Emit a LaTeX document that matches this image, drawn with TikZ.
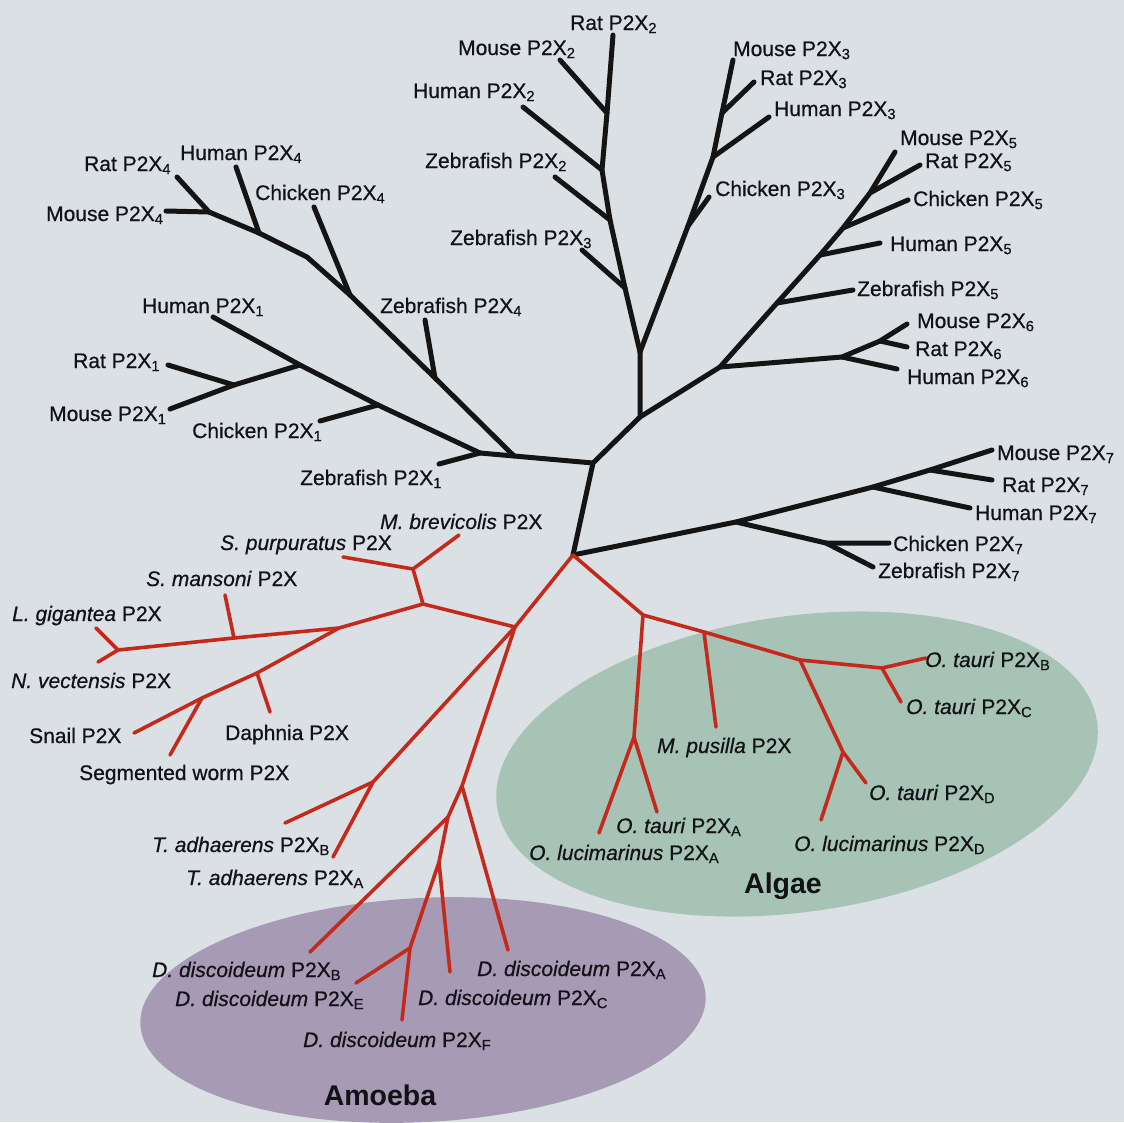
\documentclass[tikz,border=0pt]{standalone}
\usepackage{fontspec}
\setmainfont{Liberation Sans}[UprightFeatures={FakeBold=0.6},ItalicFeatures={FakeBold=0.6}]
\definecolor{bgc}{RGB}{218,224,228}
\definecolor{algc}{RGB}{166,195,182}
\definecolor{amoc}{RGB}{166,154,181}
\definecolor{redc}{RGB}{196,42,28}
\definecolor{txt}{RGB}{18,18,22}
\newcommand\lblfont{\fontsize{21}{24}\selectfont}
\newcommand\sbs[1]{\textsubscript{#1}}
\begin{document}
\begin{tikzpicture}[x=1pt,y=-1pt,
  bl/.style={line width=5pt, draw=black!92, line cap=round, line join=round},
  rd/.style={line width=3.6pt, draw=redc, line cap=round, line join=round},
  lab/.style={font=\lblfont, text=txt, inner sep=0pt, anchor=base west},
  grp/.style={font=\fontsize{28.5}{32}\selectfont\bfseries, text=txt, inner sep=0pt, anchor=base}]

\fill[bgc] (0,0) rectangle (1124,1122);
\useasboundingbox (0,0) rectangle (1124,1122);

% group ellipses
\fill[algc, rotate around={8:(797,764)}] (797,764) ellipse [x radius=303pt, y radius=148pt];
\fill[amoc, rotate around={3:(423,1010)}] (423,1010) ellipse [x radius=283pt, y radius=112pt];

% ---------- black tree ----------
\coordinate (R) at (573,555);
\coordinate (J1) at (593,463);
\coordinate (J2) at (640,417);
\coordinate (J3) at (640,352);
% P2X2
\coordinate (z3j) at (625,288); \coordinate (z3t) at (582,250);
\coordinate (z2j) at (610,220); \coordinate (z2t) at (555,177);
\coordinate (h2j) at (602,170); \coordinate (h2t) at (523,107);
\coordinate (m2j) at (607,113); \coordinate (m2t) at (560,60);
\coordinate (r2t) at (613,35);
% P2X3
\coordinate (c3j) at (688,226); \coordinate (c3t) at (709,197);
\coordinate (h3j) at (713,157); \coordinate (h3t) at (769,117);
\coordinate (r3j) at (722,113); \coordinate (r3t) at (754,82);
\coordinate (m3t) at (733,60);
% P2X5 / P2X6
\coordinate (p6j) at (720,367);
\coordinate (z5j) at (777,303); \coordinate (z5t) at (853,290);
\coordinate (h5j) at (820,255); \coordinate (h5t) at (880,243);
\coordinate (c5j) at (843,228); \coordinate (c5t) at (908,200);
\coordinate (r5j) at (870,193); \coordinate (r5t) at (920,165);
\coordinate (m5t) at (895,152);
\coordinate (p6a) at (842,357); \coordinate (h6t) at (897,369);
\coordinate (p6b) at (880,341); \coordinate (m6t) at (907,324);
\coordinate (r6t) at (907,347);
% P2X7
\coordinate (c7j) at (736,522); \coordinate (h7j) at (873,487);
\coordinate (rm7j) at (930,470); \coordinate (m7t) at (992,450);
\coordinate (r7t) at (992,480); \coordinate (h7t) at (970,508);
\coordinate (cz7j) at (826,543); \coordinate (c7t) at (889,543);
\coordinate (z7t) at (873,567);
% P2X1 / P2X4
\coordinate (p14j) at (514,456); \coordinate (z1j) at (480,453);
\coordinate (z1t) at (439,464);
\coordinate (c1j) at (378,405); \coordinate (c1t) at (320,421);
\coordinate (rm1j) at (300,365); \coordinate (rm1k) at (234,385);
\coordinate (r1t) at (168,365); \coordinate (m1t) at (170,409);
\coordinate (h1t) at (213,317);
\coordinate (z4j) at (435,378); \coordinate (z4t) at (425,320);
\coordinate (c4j) at (350,295); \coordinate (c4t) at (314,207);
\coordinate (p4m) at (307,257);
\coordinate (h4j) at (259,233); \coordinate (h4t) at (236,167);
\coordinate (rm4j) at (209,212); \coordinate (r4t) at (177,177);
\coordinate (m4t) at (166,211);

\draw[bl] (R) -- (J1) -- (J2) -- (J3) -- (z3j) -- (z2j) -- (h2j) -- (m2j) -- (r2t);
\draw[bl] (z3j) -- (z3t);
\draw[bl] (z2j) -- (z2t);
\draw[bl] (h2j) -- (h2t);
\draw[bl] (m2j) -- (m2t);
\draw[bl] (J3) -- (c3j) -- (h3j) -- (r3j) -- (m3t);
\draw[bl] (c3j) -- (c3t);
\draw[bl] (h3j) -- (h3t);
\draw[bl] (r3j) -- (r3t);
\draw[bl] (J2) -- (p6j) -- (z5j) -- (h5j) -- (c5j) -- (r5j) -- (m5t);
\draw[bl] (z5j) -- (z5t);
\draw[bl] (h5j) -- (h5t);
\draw[bl] (c5j) -- (c5t);
\draw[bl] (r5j) -- (r5t);
\draw[bl] (p6j) -- (p6a) -- (h6t);
\draw[bl] (p6a) -- (p6b) -- (m6t);
\draw[bl] (p6b) -- (r6t);
\draw[bl] (R) -- (c7j) -- (h7j) -- (rm7j) -- (m7t);
\draw[bl] (rm7j) -- (r7t);
\draw[bl] (h7j) -- (h7t);
\draw[bl] (c7j) -- (cz7j) -- (c7t);
\draw[bl] (cz7j) -- (z7t);
\draw[bl] (J1) -- (p14j) -- (z1j) -- (z1t);
\draw[bl] (z1j) -- (c1j) -- (rm1j) -- (h1t);
\draw[bl] (c1j) -- (c1t);
\draw[bl] (rm1j) -- (rm1k) -- (r1t);
\draw[bl] (rm1k) -- (m1t);
\draw[bl] (p14j) -- (z4j) -- (c4j) -- (p4m) -- (h4j) -- (rm4j) -- (r4t);
\draw[bl] (z4j) -- (z4t);
\draw[bl] (c4j) -- (c4t);
\draw[bl] (h4j) -- (h4t);
\draw[bl] (rm4j) -- (m4t);

% ---------- red tree ----------
\coordinate (rA) at (515,627); \coordinate (rB) at (643,615);
\coordinate (rC) at (423,604); \coordinate (rD) at (413,569);
\coordinate (mbt) at (459,535); \coordinate (spt) at (343,557);
\coordinate (rE) at (339,628); \coordinate (smj) at (234,638);
\coordinate (smt) at (225,595); \coordinate (lnj) at (118,650);
\coordinate (lgt) at (96,628); \coordinate (nvt) at (98,662);
\coordinate (dpj) at (257,673); \coordinate (dpt) at (270,712);
\coordinate (swj) at (202,698); \coordinate (swt) at (170,755);
\coordinate (snt) at (134,733);
\coordinate (taj) at (373,782); \coordinate (taBt) at (285,823);
\coordinate (taAt) at (333,857);
\coordinate (rEj) at (462,786); \coordinate (ddAt) at (508,950);
\coordinate (rF) at (448,817); \coordinate (ddBt) at (310,952);
\coordinate (rG) at (439,862); \coordinate (ddCt) at (450,972);
\coordinate (rH) at (410,948); \coordinate (ddEt) at (356,983);
\coordinate (ddFt) at (402,1020);
\coordinate (oAj) at (634,737); \coordinate (olAt) at (599,833);
\coordinate (otAt) at (657,812);
\coordinate (mpj) at (704,632); \coordinate (mpt) at (716,727);
\coordinate (dj) at (800,660); \coordinate (dk) at (843,752);
\coordinate (otDt) at (866,783); \coordinate (olDt) at (821,820);
\coordinate (bcj) at (882,668); \coordinate (otBt) at (926,658);
\coordinate (otCt) at (901,702);

\draw[rd] (R) -- (rA) -- (rC) -- (rD) -- (mbt);
\draw[rd] (rD) -- (spt);
\draw[rd] (rC) -- (rE) -- (smj) -- (lnj) -- (lgt);
\draw[rd] (lnj) -- (nvt);
\draw[rd] (smj) -- (smt);
\draw[rd] (rE) -- (dpj) -- (swj) -- (snt);
\draw[rd] (dpj) -- (dpt);
\draw[rd] (swj) -- (swt);
\draw[rd] (rA) -- (taj) -- (taAt);
\draw[rd] (taj) -- (taBt);
\draw[rd] (rA) -- (rEj) -- (ddAt);
\draw[rd] (rEj) -- (rF) -- (ddBt);
\draw[rd] (rF) -- (rG) -- (ddCt);
\draw[rd] (rG) -- (rH) -- (ddEt);
\draw[rd] (rH) -- (ddFt);
\draw[rd] (R) -- (rB) -- (oAj) -- (olAt);
\draw[rd] (oAj) -- (otAt);
\draw[rd] (rB) -- (mpj) -- (mpt);
\draw[rd] (mpj) -- (dj) -- (dk) -- (otDt);
\draw[rd] (dk) -- (olDt);
\draw[rd] (dj) -- (bcj) -- (otBt);
\draw[rd] (bcj) -- (otCt);

% ---------- labels ----------
\node[lab] (lr2) at (570,30) {Rat P2X\sbs{2}};
\node[lab] (lm2) at (458,55) {Mouse P2X\sbs{2}};
\node[lab] (lh2) at (413,98) {Human P2X\sbs{2}};
\node[lab] (lz2) at (425,168) {Zebrafish P2X\sbs{2}};
\node[lab] (lz3) at (450,245) {Zebrafish P2X\sbs{3}};
\node[lab] (lm3) at (733,56) {Mouse P2X\sbs{3}};
\node[lab] (lr3) at (760,85) {Rat P2X\sbs{3}};
\node[lab] (lh3) at (774,116) {Human P2X\sbs{3}};
\node[lab] (lc3) at (715,196) {Chicken P2X\sbs{3}};
\node[lab] (lm5) at (900,145) {Mouse P2X\sbs{5}};
\node[lab] (lr5) at (925,168) {Rat P2X\sbs{5}};
\node[lab] (lc5) at (913,206) {Chicken P2X\sbs{5}};
\node[lab] (lh5) at (890,251) {Human P2X\sbs{5}};
\node[lab] (lz5) at (857,296) {Zebrafish P2X\sbs{5}};
\node[lab] (lm6) at (917,328) {Mouse P2X\sbs{6}};
\node[lab] (lr6) at (915,356) {Rat P2X\sbs{6}};
\node[lab] (lh6) at (907,384) {Human P2X\sbs{6}};
\node[lab] (lm7) at (997,460) {Mouse P2X\sbs{7}};
\node[lab] (lr7) at (1002,492) {Rat P2X\sbs{7}};
\node[lab] (lh7) at (975,520) {Human P2X\sbs{7}};
\node[lab] (lc7) at (893,551) {Chicken P2X\sbs{7}};
\node[lab] (lz7) at (878,578) {Zebrafish P2X\sbs{7}};
\node[lab] (lr4) at (84,171) {Rat P2X\sbs{4}};
\node[lab] (lh4) at (180,160) {Human P2X\sbs{4}};
\node[lab] (lc4) at (255,200) {Chicken P2X\sbs{4}};
\node[lab] (lm4) at (46,221) {Mouse P2X\sbs{4}};
\node[lab] (lh1) at (142,313) {Human P2X\sbs{1}};
\node[lab] (lz4) at (380,313) {Zebrafish P2X\sbs{4}};
\node[lab] (lr1) at (73,368) {Rat P2X\sbs{1}};
\node[lab] (lm1) at (49,421) {Mouse P2X\sbs{1}};
\node[lab] (lc1) at (192,438) {Chicken P2X\sbs{1}};
\node[lab] (lz1) at (300,485) {Zebrafish P2X\sbs{1}};

\node[lab] (lmb) at (380,529) {\textit{M. brevicolis} P2X};
\node[lab] (lsp) at (220,550) {\textit{S. purpuratus} P2X};
\node[lab] (lsm) at (146,586) {\textit{S. mansoni} P2X};
\node[lab] (llg) at (12,621) {\textit{L. gigantea} P2X};
\node[lab] (lnv) at (11,688) {\textit{N. vectensis} P2X};
\node[lab] (lsn) at (29,743) {Snail P2X};
\node[lab] (ldp) at (225,740) {Daphnia P2X};
\node[lab] (lsw) at (79,780) {Segmented worm P2X};
\node[lab] (ltB) at (152,852) {\textit{T. adhaerens} P2X\sbs{B}};
\node[lab] (ltA) at (186,885) {\textit{T. adhaerens} P2X\sbs{A}};
\node[lab] (ldB) at (152,977) {\textit{D. discoideum} P2X\sbs{B}};
\node[lab] (ldE) at (175,1006) {\textit{D. discoideum} P2X\sbs{E}};
\node[lab] (ldF) at (303,1047) {\textit{D. discoideum} P2X\sbs{F}};
\node[lab] (ldC) at (418,1005) {\textit{D. discoideum} P2X\sbs{C}};
\node[lab] (ldA) at (477,976) {\textit{D. discoideum} P2X\sbs{A}};
\node[lab] (loB) at (925,667) {\textit{O. tauri} P2X\sbs{B}};
\node[lab] (loC) at (906,714) {\textit{O. tauri} P2X\sbs{C}};
\node[lab] (lmp) at (657,753) {\textit{M. pusilla} P2X};
\node[lab] (loD) at (869,800) {\textit{O. tauri} P2X\sbs{D}};
\node[lab] (llD) at (794,851) {\textit{O. lucimarinus} P2X\sbs{D}};
\node[lab] (loA) at (616,833) {\textit{O. tauri} P2X\sbs{A}};
\node[lab] (llA) at (529,860) {\textit{O. lucimarinus} P2X\sbs{A}};

\node[grp] (galg) at (783,893) {Algae};
\node[grp] (gamo) at (380,1105) {Amoeba};
\end{tikzpicture}
\end{document}
